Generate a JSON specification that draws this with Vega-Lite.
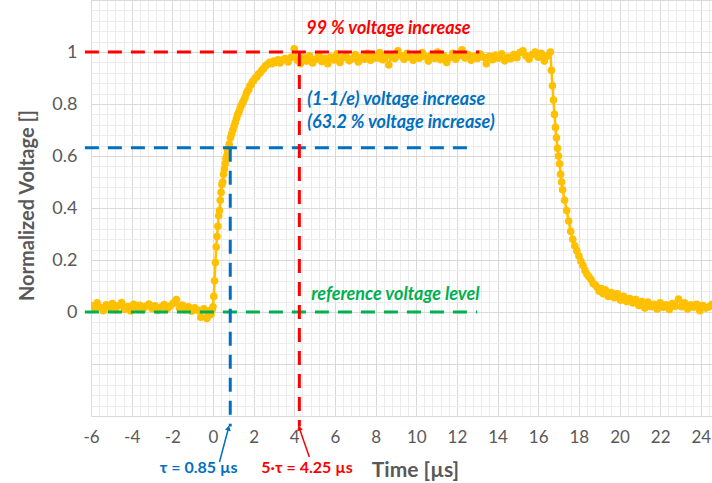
{
  "$schema": "https://vega.github.io/schema/vega-lite/v6.json",
  "width": 621,
  "height": 416,
  "autosize": {"type": "none"},
  "padding": {"left": 91, "top": 0, "right": 0, "bottom": 67},
  "background": "white",
  "config": {"view": {"stroke": null}, "font": "Lato"},
  "datasets": {
    "curve": [
      {"t":-6.0,"v":0.025},{"t":-5.85,"v":0.012},{"t":-5.7,"v":0.035},{"t":-5.55,"v":0.018},{"t":-5.4,"v":0.005},{"t":-5.25,"v":0.028},{"t":-5.1,"v":0.015},{"t":-4.95,"v":0.032},{"t":-4.8,"v":0.008},{"t":-4.65,"v":0.024},{"t":-4.5,"v":0.036},{"t":-4.35,"v":0.011},{"t":-4.2,"v":0.021},{"t":-4.05,"v":0.004},{"t":-3.9,"v":0.03},{"t":-3.75,"v":0.017},{"t":-3.6,"v":0.026},{"t":-3.45,"v":0.009},{"t":-3.3,"v":0.022},{"t":-3.15,"v":0.031},{"t":-3.0,"v":0.013},{"t":-2.85,"v":0.024},{"t":-2.7,"v":0.006},{"t":-2.55,"v":0.019},{"t":-2.4,"v":0.029},{"t":-2.25,"v":0.012},{"t":-2.1,"v":0.023},{"t":-1.95,"v":0.034},{"t":-1.8,"v":0.048},{"t":-1.65,"v":0.016},{"t":-1.5,"v":0.027},{"t":-1.35,"v":0.01},{"t":-1.2,"v":0.02},{"t":-1.05,"v":0.003},{"t":-0.9,"v":0.016},{"t":-0.75,"v":0.007},{"t":-0.6,"v":-0.02},{"t":-0.45,"v":0.012},{"t":-0.3,"v":-0.025},{"t":-0.2,"v":0.005},{"t":-0.1,"v":-0.01},{"t":-0.04,"v":0.01},{"t":0.0,"v":0.02},
      {"t":0.04,"v":0.06},{"t":0.08,"v":0.12},{"t":0.12,"v":0.19},{"t":0.16,"v":0.25},{"t":0.2,"v":0.29},{"t":0.24,"v":0.33},{"t":0.28,"v":0.37},{"t":0.32,"v":0.39},{"t":0.36,"v":0.43},{"t":0.4,"v":0.46},{"t":0.44,"v":0.49},{"t":0.48,"v":0.5},{"t":0.52,"v":0.53},{"t":0.56,"v":0.55},{"t":0.6,"v":0.57},{"t":0.64,"v":0.59},{"t":0.68,"v":0.6},{"t":0.72,"v":0.62},{"t":0.76,"v":0.63},{"t":0.8,"v":0.645},{"t":0.86,"v":0.67},{"t":0.92,"v":0.685},{"t":0.98,"v":0.7},{"t":1.04,"v":0.715},{"t":1.1,"v":0.73},{"t":1.16,"v":0.745},{"t":1.22,"v":0.76},{"t":1.28,"v":0.77},{"t":1.34,"v":0.785},{"t":1.4,"v":0.795},{"t":1.46,"v":0.805},{"t":1.52,"v":0.815},{"t":1.58,"v":0.825},{"t":1.64,"v":0.84},{"t":1.7,"v":0.85},{"t":1.76,"v":0.855},{"t":1.82,"v":0.87},{"t":1.88,"v":0.875},{"t":1.94,"v":0.885},{"t":2.0,"v":0.89},{"t":2.08,"v":0.9},{"t":2.16,"v":0.905},{"t":2.24,"v":0.915},{"t":2.32,"v":0.92},{"t":2.4,"v":0.93},{"t":2.48,"v":0.935},{"t":2.56,"v":0.945},{"t":2.64,"v":0.95},{"t":2.72,"v":0.955},{"t":2.8,"v":0.96},{"t":2.9,"v":0.955},{"t":3.0,"v":0.965},{"t":3.1,"v":0.96},{"t":3.2,"v":0.97},{"t":3.3,"v":0.958},{"t":3.4,"v":0.968},
      {"t":3.55,"v":0.975},{"t":3.7,"v":0.962},{"t":3.85,"v":0.98},{"t":4.0,"v":1.012},{"t":4.15,"v":0.968},{"t":4.3,"v":0.955},{"t":4.45,"v":0.978},{"t":4.6,"v":0.965},{"t":4.75,"v":0.985},{"t":4.9,"v":0.958},{"t":5.05,"v":0.972},{"t":5.2,"v":0.99},{"t":5.35,"v":0.963},{"t":5.5,"v":0.976},{"t":5.65,"v":0.955},{"t":5.8,"v":0.981},{"t":5.95,"v":0.969},{"t":6.1,"v":0.993},{"t":6.25,"v":0.96},{"t":6.4,"v":0.978},{"t":6.55,"v":0.985},{"t":6.7,"v":0.966},{"t":6.85,"v":0.974},{"t":7.0,"v":0.99},{"t":7.15,"v":0.962},{"t":7.3,"v":0.98},{"t":7.45,"v":0.972},{"t":7.6,"v":0.995},{"t":7.75,"v":0.968},{"t":7.9,"v":0.984},{"t":8.05,"v":0.976},{"t":8.2,"v":0.998},{"t":8.35,"v":0.97},{"t":8.5,"v":0.988},{"t":8.65,"v":0.95},{"t":8.8,"v":0.982},{"t":8.95,"v":0.975},{"t":9.1,"v":1.005},{"t":9.25,"v":0.985},{"t":9.4,"v":0.972},{"t":9.55,"v":0.995},{"t":9.7,"v":0.98},{"t":9.85,"v":0.968},{"t":10.0,"v":0.99},{"t":10.15,"v":0.976},{"t":10.3,"v":0.998},{"t":10.45,"v":0.982},{"t":10.6,"v":0.965},{"t":10.75,"v":0.988},{"t":10.9,"v":0.975},{"t":11.05,"v":1.0},{"t":11.2,"v":0.97},{"t":11.35,"v":0.985},{"t":11.5,"v":0.96},{"t":11.65,"v":0.978},{"t":11.8,"v":0.995},{"t":11.95,"v":0.972},{"t":12.1,"v":0.986},{"t":12.25,"v":1.008},{"t":12.4,"v":0.977},{"t":12.55,"v":0.99},{"t":12.7,"v":0.968},{"t":12.85,"v":0.984},{"t":13.0,"v":0.975},{"t":13.15,"v":0.992},{"t":13.3,"v":0.98},{"t":13.45,"v":0.955},{"t":13.6,"v":0.983},{"t":13.75,"v":0.97},{"t":13.9,"v":0.988},{"t":14.05,"v":0.976},{"t":14.2,"v":0.993},{"t":14.35,"v":0.966},{"t":14.5,"v":0.981},{"t":14.65,"v":0.974},{"t":14.8,"v":0.99},{"t":14.95,"v":0.978},{"t":15.1,"v":0.998},{"t":15.25,"v":1.005},{"t":15.4,"v":0.985},{"t":15.55,"v":0.972},{"t":15.7,"v":0.99},{"t":15.85,"v":1.0},{"t":16.0,"v":0.98},{"t":16.15,"v":0.995},{"t":16.3,"v":0.965},{"t":16.45,"v":0.985},{"t":16.6,"v":1.0},
      {"t":16.65,"v":0.93},{"t":16.7,"v":0.87},{"t":16.75,"v":0.815},{"t":16.8,"v":0.76},{"t":16.85,"v":0.71},{"t":16.9,"v":0.67},{"t":16.95,"v":0.63},{"t":17.0,"v":0.6},{"t":17.05,"v":0.57},{"t":17.1,"v":0.53},{"t":17.15,"v":0.5},{"t":17.2,"v":0.47},{"t":17.3,"v":0.43},{"t":17.4,"v":0.39},{"t":17.5,"v":0.35},{"t":17.6,"v":0.31},{"t":17.7,"v":0.28},{"t":17.8,"v":0.255},{"t":17.9,"v":0.235},{"t":18.0,"v":0.215},{"t":18.1,"v":0.195},{"t":18.2,"v":0.18},{"t":18.3,"v":0.16},{"t":18.4,"v":0.145},{"t":18.5,"v":0.135},{"t":18.6,"v":0.125},{"t":18.7,"v":0.11},{"t":18.8,"v":0.105},{"t":18.9,"v":0.095},{"t":19.0,"v":0.08},{"t":19.1,"v":0.09},{"t":19.2,"v":0.07},{"t":19.3,"v":0.085},
      {"t":19.45,"v":0.06},{"t":19.6,"v":0.075},{"t":19.75,"v":0.055},{"t":19.9,"v":0.07},{"t":20.05,"v":0.045},{"t":20.2,"v":0.06},{"t":20.35,"v":0.04},{"t":20.5,"v":0.052},{"t":20.65,"v":0.035},{"t":20.8,"v":0.048},{"t":20.95,"v":0.025},{"t":21.1,"v":0.04},{"t":21.25,"v":0.015},{"t":21.4,"v":0.038},{"t":21.55,"v":0.02},{"t":21.7,"v":0.03},{"t":21.85,"v":0.012},{"t":22.0,"v":0.035},{"t":22.15,"v":0.018},{"t":22.3,"v":0.028},{"t":22.45,"v":0.01},{"t":22.6,"v":0.032},{"t":22.75,"v":0.022},{"t":22.9,"v":0.05},{"t":23.05,"v":0.02},{"t":23.2,"v":0.035},{"t":23.35,"v":0.012},{"t":23.5,"v":0.028},{"t":23.65,"v":0.018},{"t":23.8,"v":0.03},{"t":23.95,"v":0.005},{"t":24.1,"v":0.025},{"t":24.25,"v":0.015},{"t":24.4,"v":0.02},{"t":24.55,"v":0.03}
    ],
    "rules": [
      {"kind":"99","t":-6.3,"t2":13.1,"v":1,"v2":1},
      {"kind":"63","t":-6.3,"t2":12.9,"v":0.632,"v2":0.632},
      {"kind":"ref","t":-6.3,"t2":13.0,"v":0,"v2":0},
      {"kind":"5tau","t":4.25,"t2":4.25,"v":1,"v2":-0.44},
      {"kind":"tau","t":0.85,"t2":0.85,"v":0.632,"v2":-0.44}
    ],
    "notes": [
      {"kind":"99","t":4.59,"v":1.088,"label":"99 % voltage increase"},
      {"kind":"63","t":4.64,"v":0.815,"label":"(1-1/e) voltage increase"},
      {"kind":"63","t":4.64,"v":0.727,"label":"(63.2 % voltage increase)"},
      {"kind":"ref","t":4.83,"v":0.065,"label":"reference voltage level"}
    ],
    "taus": [
      {"kind":"tau","t":-2.62,"v":-0.6,"label":"τ = 0.85 µs"},
      {"kind":"5tau","t":2.38,"v":-0.6,"label":"5·τ = 4.25 µs"}
    ],
    "arrows": [
      {"kind":"tau","t":0.32,"v":-0.577,"t2":0.765,"v2":-0.446},
      {"kind":"5tau","t":4.74,"v":-0.558,"t2":4.245,"v2":-0.446}
    ]
  },
  "layer": [
    {
      "data": {"name": "curve"},
      "mark": {"type": "line", "color": "#FFC000", "strokeWidth": 2.5, "clip": true,
               "point": {"filled": true, "size": 58, "color": "#FFC000", "opacity": 1}},
      "encoding": {
        "x": {"field": "t", "type": "quantitative",
              "scale": {"domain": [-6, 24.55], "nice": false, "zero": false},
              "axis": {
                "values": [-6,-5.6,-5.2,-4.8,-4.4,-4,-3.6,-3.2,-2.8,-2.4,-2,-1.6,-1.2,-0.8,-0.4,0,0.4,0.8,1.2,1.6,2,2.4,2.8,3.2,3.6,4,4.4,4.8,5.2,5.6,6,6.4,6.8,7.2,7.6,8,8.4,8.8,9.2,9.6,10,10.4,10.8,11.2,11.6,12,12.4,12.8,13.2,13.6,14,14.4,14.8,15.2,15.6,16,16.4,16.8,17.2,17.6,18,18.4,18.8,19.2,19.6,20,20.4,20.8,21.2,21.6,22,22.4,22.8,23.2,23.6,24,24.4],
                "tickCount": 500,
                "grid": true,
                "gridColor": {"condition": {"test": "abs(datum.value/2 - round(datum.value/2)) < 0.01", "value": "#d9d9d9"}, "value": "#ececec"},
                "gridWidth": 1,
                "ticks": false,
                "domain": false,
                "labelOverlap": false,
                "labelFlush": false,
                "labelBound": false,
                "labelExpr": "abs(datum.value/2 - round(datum.value/2)) < 0.01 ? '' + round(datum.value) : ''",
                "labelFont": "Lato", "labelFontSize": 17, "labelColor": "#595959", "labelPadding": 13,
                "title": "Time [µs]",
                "titleFont": "Lato", "titleFontSize": 21, "titleFontWeight": "bold", "titleColor": "#595959",
                "titleX": 324, "titleY": 54, "titleBaseline": "middle", "titleAlign": "center"
              }},
        "y": {"field": "v", "type": "quantitative",
              "scale": {"domain": [-0.4, 1.2], "nice": false, "zero": false},
              "axis": {
                "values": [-0.4,-0.36,-0.32,-0.28,-0.24,-0.2,-0.16,-0.12,-0.08,-0.04,0,0.04,0.08,0.12,0.16,0.2,0.24,0.28,0.32,0.36,0.4,0.44,0.48,0.52,0.56,0.6,0.64,0.68,0.72,0.76,0.8,0.84,0.88,0.92,0.96,1,1.04,1.08,1.12,1.16,1.2],
                "tickCount": 500,
                "grid": true,
                "gridColor": {"condition": {"test": "abs(datum.value/0.2 - round(datum.value/0.2)) < 0.01", "value": "#d9d9d9"}, "value": "#ececec"},
                "gridWidth": 1,
                "ticks": false,
                "domain": false,
                "labelOverlap": false,
                "labelFlush": false,
                "labelExpr": "abs(datum.value/0.2 - round(datum.value/0.2)) < 0.01 && datum.value > -0.01 && datum.value < 1.01 ? '' + round(datum.value*10)/10 : ''",
                "labelFont": "Lato", "labelFontSize": 18, "labelColor": "#595959", "labelPadding": 14,
                "title": "Normalized Voltage []",
                "titleFont": "Lato", "titleFontSize": 20, "titleFontWeight": "bold", "titleColor": "#595959",
                "titleX": -64, "titleY": 205, "titleAngle": -90, "titleBaseline": "middle", "titleAlign": "center"
              }}
      }
    },
    {
      "data": {"name": "rules"},
      "mark": {"type": "rule", "strokeWidth": 3, "strokeDash": [14, 9], "clip": false},
      "encoding": {
        "x": {"field": "t", "type": "quantitative"},
        "x2": {"field": "t2"},
        "y": {"field": "v", "type": "quantitative"},
        "y2": {"field": "v2"},
        "color": {"field": "kind", "type": "nominal",
                  "scale": {"domain": ["99", "63", "ref", "tau", "5tau"], "range": ["#FF0000", "#0070C0", "#00B050", "#0070C0", "#FF0000"]},
                  "legend": null}
      }
    },
    {
      "data": {"name": "arrows"},
      "mark": {"type": "rule", "strokeWidth": 1.5, "clip": false},
      "encoding": {
        "x": {"field": "t", "type": "quantitative"},
        "x2": {"field": "t2"},
        "y": {"field": "v", "type": "quantitative"},
        "y2": {"field": "v2"},
        "color": {"field": "kind", "type": "nominal", "legend": null}
      }
    },
    {
      "data": {"name": "arrows"},
      "transform": [{"filter": "datum.kind === 'tau'"}],
      "mark": {"type": "point", "shape": "triangle-up", "filled": true, "size": 35, "angle": 15, "opacity": 1, "clip": false},
      "encoding": {
        "x": {"field": "t2", "type": "quantitative"},
        "y": {"field": "v2", "type": "quantitative"},
        "color": {"field": "kind", "type": "nominal", "legend": null}
      }
    },
    {
      "data": {"name": "arrows"},
      "transform": [{"filter": "datum.kind === '5tau'"}],
      "mark": {"type": "point", "shape": "triangle-up", "filled": true, "size": 35, "angle": 341, "opacity": 1, "clip": false},
      "encoding": {
        "x": {"field": "t2", "type": "quantitative"},
        "y": {"field": "v2", "type": "quantitative"},
        "color": {"field": "kind", "type": "nominal", "legend": null}
      }
    },
    {
      "data": {"name": "notes"},
      "mark": {"type": "text", "align": "left", "baseline": "middle", "font": "Lato", "fontSize": 18, "fontStyle": "italic", "fontWeight": "bold", "clip": false},
      "encoding": {
        "x": {"field": "t", "type": "quantitative"},
        "y": {"field": "v", "type": "quantitative"},
        "text": {"field": "label"},
        "color": {"field": "kind", "type": "nominal", "legend": null}
      }
    },
    {
      "data": {"name": "taus"},
      "mark": {"type": "text", "align": "left", "baseline": "middle", "font": "Lato", "fontSize": 16, "fontWeight": "bold", "clip": false},
      "encoding": {
        "x": {"field": "t", "type": "quantitative"},
        "y": {"field": "v", "type": "quantitative"},
        "text": {"field": "label"},
        "color": {"field": "kind", "type": "nominal", "legend": null}
      }
    }
  ]
}
